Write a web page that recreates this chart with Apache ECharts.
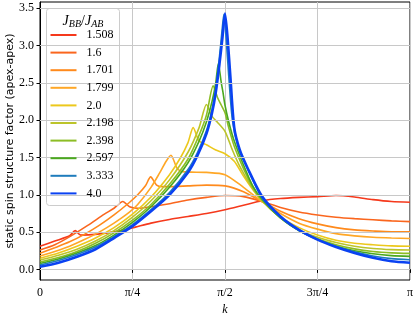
<!DOCTYPE html>
<html><head><meta charset="utf-8">
<script src="https://cdn.jsdelivr.net/npm/echarts@6/dist/echarts.min.js"></script>
<style>html,body{margin:0;padding:0;background:#fff}#c{width:415px;height:314px}</style>
</head><body><div id="c"></div>
<script>
// k in units of pi
const seriesNames = ['1.508','1.6','1.701','1.799','2.0','2.198','2.398','2.597','3.333','4.0'];
const xTickLabels = ['0','π/4','π/2','3π/4','π'];
const yTickValues = [0,0.5,1.0,1.5,2.0,2.5,3.0,3.5];
const yAxisTitle = 'static spin structure factor (apex-apex)';

const k_1508 = [0,0.04,0.08,0.095,0.11,0.15,0.22,0.26,0.3,0.35,0.4,0.45,0.5,0.55,0.6,0.65,0.7,0.75,0.8,0.85,0.9,0.95,1.0];
const s_1508 = [0.31,0.38,0.45,0.52,0.46,0.47,0.52,0.57,0.62,0.67,0.71,0.75,0.80,0.86,0.92,0.95,0.965,0.975,0.99,0.97,0.935,0.91,0.90];

const k_16 = [0,0.04,0.084,0.129,0.174,0.2,0.224,0.242,0.264,0.3,0.35,0.4,0.45,0.5,0.55,0.6,0.65,0.7,0.75,0.8,0.85,0.9,0.95,1];
const s_16 = [0.26,0.33,0.45,0.59,0.74,0.82,0.91,0.84,0.82,0.84,0.88,0.93,0.965,0.99,0.975,0.91,0.83,0.77,0.73,0.70,0.68,0.665,0.65,0.64];

const k_1701 = [0,0.04,0.08,0.12,0.16,0.2,0.24,0.264,0.285,0.299,0.315,0.33,0.35,0.4,0.45,0.5,0.55,0.6,0.65,0.7,0.75,0.8,0.85,0.9,0.95,1];
const s_1701 = [0.215,0.29,0.37,0.47,0.59,0.73,0.89,1.0,1.12,1.24,1.13,1.11,1.11,1.12,1.13,1.12,1.04,0.91,0.78,0.68,0.61,0.56,0.53,0.515,0.505,0.505];

const k_1799 = [0,0.04,0.08,0.12,0.16,0.2,0.24,0.264,0.3,0.323,0.341,0.354,0.37,0.385,0.45,0.5,0.55,0.6,0.65,0.7,0.75,0.8,0.85,0.9,0.95,1];
const s_1799 = [0.18,0.24,0.31,0.4,0.5,0.62,0.76,0.87,1.1,1.29,1.45,1.53,1.36,1.31,1.30,1.27,1.1,0.91,0.75,0.62,0.54,0.48,0.45,0.43,0.42,0.415];

const k_20 = [0,0.05,0.1,0.15,0.2,0.25,0.3,0.35,0.38,0.4,0.414,0.43,0.45,0.475,0.5,0.525,0.55,0.575,0.6,0.65,0.7,0.75,0.8,0.85,0.9,0.95,1];
const s_20 = [0.15,0.22,0.31,0.42,0.56,0.74,0.97,1.27,1.5,1.7,1.9,1.72,1.67,1.6,1.55,1.45,1.25,1.07,0.92,0.7,0.56,0.46,0.39,0.35,0.33,0.315,0.31];

const k_2198 = [0,0.05,0.1,0.15,0.2,0.25,0.3,0.35,0.4,0.43,0.45,0.465,0.48,0.5,0.52,0.54,0.57,0.6,0.65,0.7,0.75,0.8,0.85,0.9,0.95,1];
const s_2198 = [0.125,0.19,0.27,0.38,0.52,0.7,0.92,1.2,1.57,1.9,2.21,2.05,1.97,1.85,1.6,1.38,1.12,0.92,0.69,0.53,0.43,0.36,0.31,0.28,0.265,0.26];

const k_2398 = [0,0.05,0.1,0.15,0.2,0.25,0.3,0.35,0.4,0.43,0.45,0.468,0.48,0.49,0.5,0.51,0.525,0.55,0.575,0.6,0.65,0.7,0.75,0.8,0.85,0.9,0.95,1];
const s_2398 = [0.10,0.16,0.24,0.35,0.49,0.66,0.87,1.14,1.48,1.8,2.07,2.46,2.3,2.2,2.1,1.9,1.65,1.35,1.1,0.93,0.69,0.52,0.41,0.33,0.275,0.24,0.222,0.215];

const k_2597 = [0,0.05,0.1,0.15,0.2,0.25,0.3,0.35,0.4,0.43,0.45,0.465,0.475,0.482,0.49,0.495,0.5,0.51,0.525,0.55,0.575,0.6,0.65,0.7,0.75,0.8,0.85,0.9,0.95,1];
const s_2597 = [0.08,0.14,0.22,0.32,0.46,0.63,0.84,1.1,1.43,1.72,1.98,2.25,2.5,2.76,2.5,2.36,2.2,1.98,1.72,1.4,1.12,0.94,0.69,0.52,0.40,0.31,0.25,0.21,0.185,0.175];

const k_3333 = [0,0.05,0.1,0.15,0.2,0.25,0.3,0.35,0.4,0.425,0.45,0.465,0.475,0.485,0.492,0.497,0.503,0.51,0.52,0.535,0.56,0.6,0.65,0.7,0.75,0.8,0.85,0.9,0.95,1];
const s_3333 = [0.06,0.12,0.2,0.3,0.44,0.6,0.8,1.03,1.34,1.56,1.86,2.14,2.42,2.85,3.2,3.42,3.1,2.6,2.0,1.65,1.36,0.96,0.7,0.52,0.405,0.31,0.235,0.18,0.145,0.13];

const k_40 = [0,0.05,0.1,0.15,0.2,0.25,0.3,0.35,0.4,0.425,0.45,0.465,0.475,0.485,0.493,0.5,0.507,0.515,0.525,0.54,0.56,0.6,0.65,0.7,0.75,0.8,0.85,0.9,0.95,1];
const s_40 = [0.035,0.09,0.17,0.27,0.42,0.58,0.78,1.0,1.3,1.52,1.82,2.1,2.37,2.75,3.1,3.43,3.1,2.55,1.9,1.6,1.37,0.98,0.71,0.53,0.4,0.3,0.22,0.155,0.11,0.09];

const kArrays = [k_1508,k_16,k_1701,k_1799,k_20,k_2198,k_2398,k_2597,k_3333,k_40];
const sArrays = [s_1508,s_16,s_1701,s_1799,s_20,s_2198,s_2398,s_2597,s_3333,s_40];
const colors = ['#f5391c','#fa661e','#ff8a1c','#ffa726','#ecc81c','#bcc42a','#8cbd25','#4aa81e','#1f7cbc','#0a42f2'];
const widths = [1.6,1.6,1.6,1.6,1.6,1.6,1.6,1.6,1.6,2.6];

const serif = 'Liberation Serif';
const chart = echarts.init(document.getElementById('c'), null, {renderer:'canvas'});
const series = seriesNames.map((n,i)=>({
  name:n, type:'line', symbol:'none', smooth:0.25, z: 2+i*0.01,
  data: kArrays[i].map((k,j)=>[k, sArrays[i][j]]),
  lineStyle:{color:colors[i], width:widths[i]}, itemStyle:{color:colors[i]},
  emphasis:{disabled:true}
}));
// horizontal grid lines at the y tick values (drawn through the y scale)
series.push({
  type:'line', data:[], silent:true, z:1,
  markLine:{silent:true, symbol:'none', label:{show:false}, animation:false,
    lineStyle:{color:'#c8c8c8', width:1, type:'solid'},
    data: yTickValues.map(v=>({yAxis:v}))}
});

chart.setOption({
  animation:false,
  grid:{left:40, right:5, top:2, bottom:34, containLabel:false, outerBoundsMode:'none',
    show:true, borderColor:'#000', borderWidth:1, backgroundColor:'transparent'},
  xAxis:{type:'value', min:0, max:1, interval:0.25,
    axisLine:{show:true, lineStyle:{color:'#000', width:1}},
    axisTick:{show:true, inside:false, length:3.5, lineStyle:{color:'#000'}},
    axisLabel:{margin:7, color:'#000', fontFamily:serif, fontSize:12, formatter:v=>xTickLabels[Math.round(v/0.25)]},
    splitLine:{show:true, lineStyle:{color:'#c8c8c8', width:1}},
    name:'k', nameLocation:'middle', nameGap:22,
    nameTextStyle:{fontFamily:serif, fontStyle:'italic', fontSize:12, color:'#000'}
  },
  yAxis:{type:'value', min:-0.142, max:3.584,
    axisLine:{show:true, lineStyle:{color:'#000', width:1}},
    axisTick:{show:true, inside:false, length:3.5, lineStyle:{color:'#000'}, customValues:yTickValues},
    axisLabel:{margin:6, color:'#000', fontFamily:serif, fontSize:12, customValues:yTickValues, formatter:v=>v.toFixed(1)},
    splitLine:{show:false}
  },
  legend:{orient:'vertical', left:50.5, top:28, padding:0, itemWidth:26, itemHeight:2, itemGap:3.6, icon:'rect',
    data:seriesNames,
    textStyle:{fontFamily:serif, fontSize:12, color:'#000', lineHeight:14, padding:[0,0,0,5]},
    z:6
  },
  graphic:[
    {type:'text', x:10, y:141, rotation:Math.PI/2, z:7,
     style:{text:yAxisTitle, align:'center', verticalAlign:'middle', fontFamily:'DejaVu Sans', fontSize:11, fill:'#000'}},
    {type:'rect', shape:{x:46.5, y:8.5, width:73, height:197, r:3},
     style:{fill:'rgba(255,255,255,0.8)', stroke:'#cccccc', lineWidth:1}, z:5},
    {type:'text', x:83, y:21, z:7,
     style:{text:'{i|J}{s|BB}{n|/}{i|J}{s|AB}', align:'center', verticalAlign:'middle',
       rich:{
         i:{fontFamily:serif, fontStyle:'italic', fontSize:14, lineHeight:16, verticalAlign:'middle'},
         n:{fontFamily:serif, fontSize:14, lineHeight:16, verticalAlign:'middle'},
         s:{fontFamily:serif, fontStyle:'italic', fontSize:10, lineHeight:9, verticalAlign:'bottom'}
       }}}
  ],
  series: series
});
</script></body></html>
